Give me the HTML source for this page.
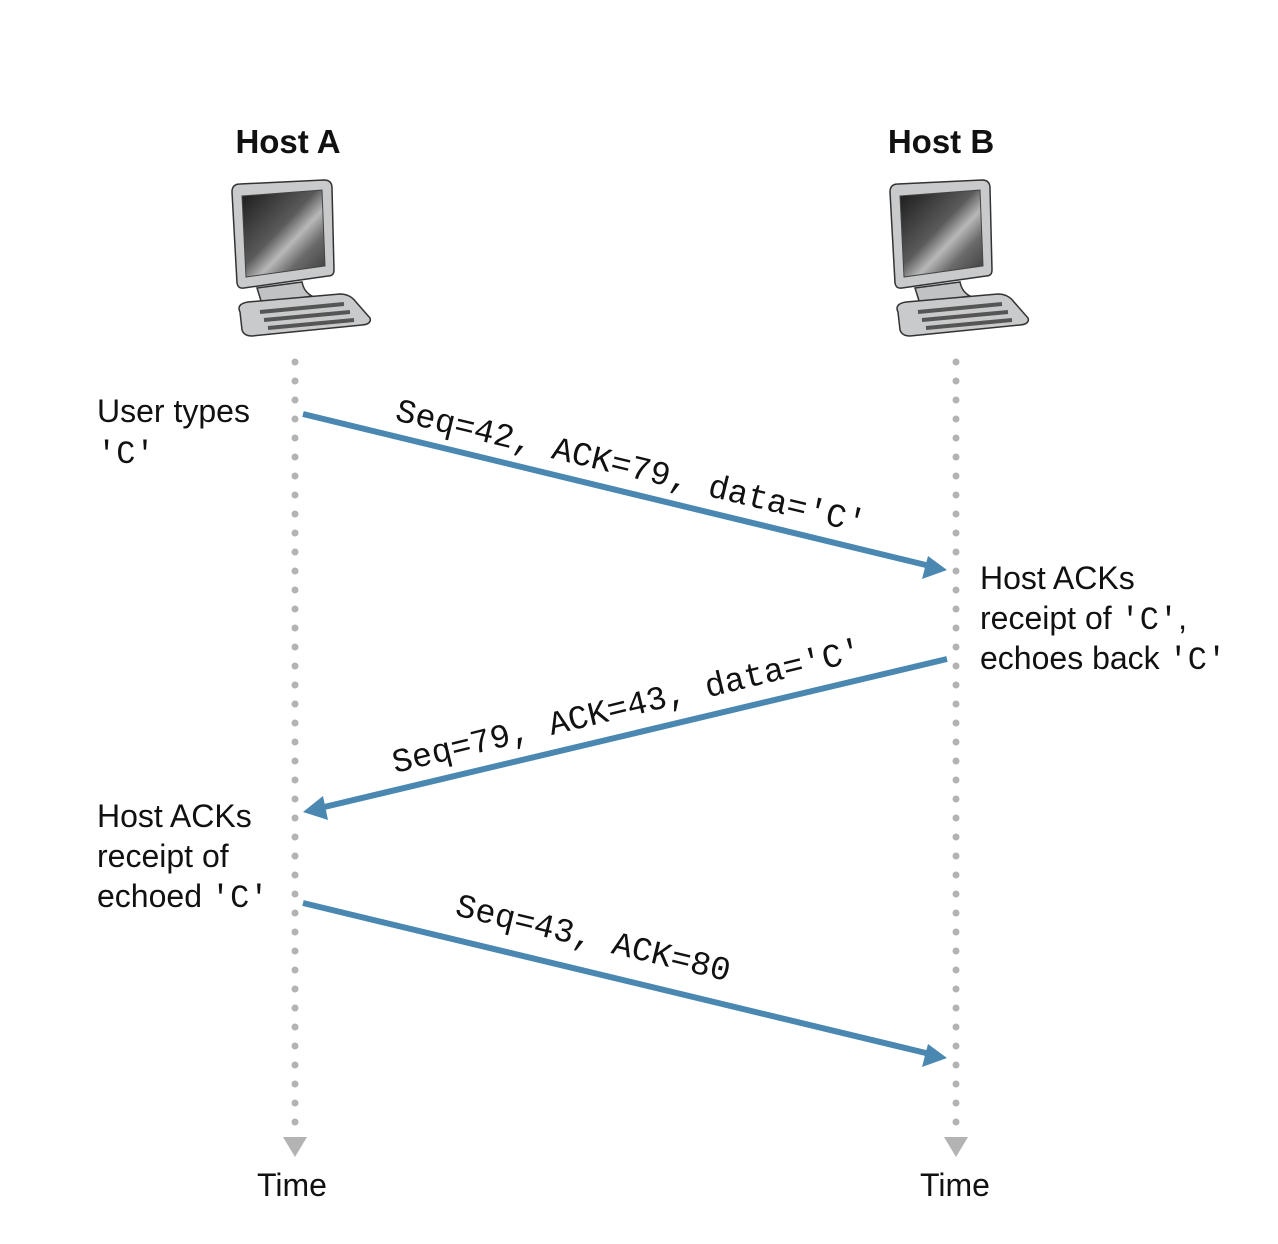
<!DOCTYPE html>
<html><head><meta charset="utf-8"><style>
html,body{margin:0;padding:0;background:#fff;}
svg{display:block;}
.s{font-family:"Liberation Sans",sans-serif;font-size:32px;fill:#111;}
.m{font-family:"Liberation Mono",monospace;font-size:33.5px;fill:#111;}
.sm{font-family:"Liberation Mono",monospace;font-size:32px;}
</style></head><body>
<svg width="1278" height="1244" viewBox="0 0 1278 1244" xmlns="http://www.w3.org/2000/svg">
<defs>
<linearGradient id="scr" x1="0" y1="0" x2="1" y2="1">
<stop offset="0" stop-color="#1a1a1a"/><stop offset="0.45" stop-color="#5a5a5a"/><stop offset="0.6" stop-color="#b8b8b8"/><stop offset="0.75" stop-color="#6a6a6a"/><stop offset="1" stop-color="#3a3a3a"/>
</linearGradient>
<g id="pc">
<path d="M0,8 Q0,0 8,0 L92,-4 Q100,-4 100,4 L102,86 Q102,92 96,92 L12,104 Q6,105 5,99 Z" fill="#c8cacc" stroke="#333" stroke-width="1.5"/>
<path d="M10,12 L90,6 L93,82 L14,93 Z" fill="url(#scr)" stroke="#444" stroke-width="1"/>
<path d="M25,104 L70,98 Q72,108 80,112 L30,120 Z" fill="#c0c2c4" stroke="#333" stroke-width="1.5"/>
<path d="M8,128 Q4,120 16,118 L108,110 Q118,110 124,118 L138,134 Q140,140 130,141 L20,152 Q12,152 10,146 Z" fill="#c8cacc" stroke="#333" stroke-width="1.5"/>
<path d="M28,128 L112,120 M32,136 L118,128 M36,144 L122,136" stroke="#555" stroke-width="4"/>
</g>
</defs>
<text x="288" y="153" text-anchor="middle" class="s" style="font-weight:bold;font-size:33px">Host A</text>
<text x="941" y="153" text-anchor="middle" class="s" style="font-weight:bold;font-size:33px">Host B</text>
<use href="#pc" x="232" y="184"/>
<use href="#pc" x="890" y="184"/>
<line x1="295" y1="362" x2="295" y2="1128" stroke="#b3b3b3" stroke-width="7" stroke-linecap="round" stroke-dasharray="0 19"/>
<line x1="956" y1="362" x2="956" y2="1128" stroke="#b3b3b3" stroke-width="7" stroke-linecap="round" stroke-dasharray="0 19"/>
<polygon points="283,1137 307,1137 295,1157" fill="#b3b3b3"/>
<polygon points="944,1137 968,1137 956,1157" fill="#b3b3b3"/>
<text x="292" y="1196" text-anchor="middle" class="s">Time</text>
<text x="955" y="1196" text-anchor="middle" class="s">Time</text>
<g stroke="#4a88b2" stroke-width="6" fill="#4a88b2">
<line x1="303" y1="414" x2="930" y2="566"/>
<polygon points="947,570 922,579 928,556" stroke="none"/>
<line x1="947" y1="659" x2="320" y2="808"/>
<polygon points="303,812 323,796 328,820" stroke="none"/>
<line x1="303" y1="903" x2="930" y2="1054"/>
<polygon points="947,1058 922,1067 928,1044" stroke="none"/>
</g>
<text class="m" transform="translate(394,420) rotate(13.6)">Seq=42, ACK=79, data='C'</text>
<text class="m" transform="translate(395,773) rotate(-13.6)">Seq=79, ACK=43, data='C'</text>
<text class="m" transform="translate(454,915) rotate(13.6)">Seq=43, ACK=80</text>
<text class="s" x="97" y="422">User types</text>
<text class="s sm" x="97" y="463">'C'</text>
<text class="s" x="980" y="589">Host ACKs</text>
<text class="s" x="980" y="629">receipt of <tspan class="sm">'C'</tspan>,</text>
<text class="s" x="980" y="669">echoes back <tspan class="sm">'C'</tspan></text>
<text class="s" x="97" y="827">Host ACKs</text>
<text class="s" x="97" y="867">receipt of</text>
<text class="s" x="97" y="907">echoed <tspan class="sm">'C'</tspan></text>
</svg>
</body></html>
